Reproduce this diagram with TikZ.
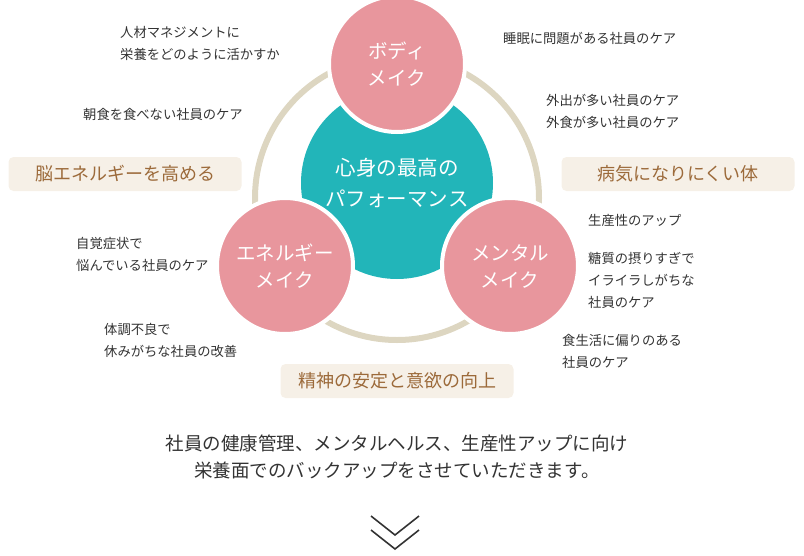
\documentclass[tikz,border=0pt]{standalone}
\usepackage{fontspec}
\setmainfont{Noto Sans CJK JP}
\definecolor{teal1}{HTML}{22B5B9}
\definecolor{pink1}{HTML}{E8969D}
\definecolor{ring}{HTML}{DDD6C1}
\definecolor{boxbg}{HTML}{F6F0E7}
\definecolor{brown1}{HTML}{9C6A3A}
\definecolor{txt}{HTML}{333333}
\begin{document}
\begin{tikzpicture}[x=1pt,y=-1pt,
  small/.style={font=\fontsize{13.3}{22}\selectfont,text=txt,align=left,anchor=west,inner sep=0},
  pinkc/.style={circle,fill=pink1,draw=white,line width=4pt,minimum size=140pt,text=white,align=center,font=\fontsize{19.5}{27}\selectfont},
  tag/.style={rounded corners=5pt,fill=boxbg,text=brown1,minimum width=233pt,minimum height=34pt,font=\fontsize{18}{22}\selectfont}]
\useasboundingbox (0,0) rectangle (804,555);
\draw[ring,line width=6pt] (397,198) circle (142);
\node[circle,fill=teal1,minimum size=192pt,text=white,align=center,font=\fontsize{20.5}{31}\selectfont] (c) at (397,183) {心身の最高の\\パフォーマンス};
\node[pinkc,minimum size=136pt] (b) at (397,64) {ボディ\\メイク};
\node[pinkc,minimum size=136pt] (e) at (285,266) {エネルギー\\メイク};
\node[pinkc,minimum size=136pt] (m) at (510,266) {メンタル\\メイク};
\node[tag] (t1) at (125,174) {脳エネルギーを高める};
\node[tag] (t2) at (678,174) {病気になりにくい体};
\node[tag] (t3) at (397,381) {精神の安定と意欲の向上};
\node[small] (l1) at (120,43) {人材マネジメントに\\栄養をどのように活かすか};
\node[small] (l2) at (83,114) {朝食を食べない社員のケア};
\node[small] (l3) at (76,254) {自覚症状で\\悩んでいる社員のケア};
\node[small] (l4) at (104,340) {体調不良で\\休みがちな社員の改善};
\node[small] (r1) at (503,38) {睡眠に問題がある社員のケア};
\node[small] (r2) at (546,111) {外出が多い社員のケア\\外食が多い社員のケア};
\node[small] (r3) at (588,220) {生産性のアップ};
\node[small] (r4) at (588,280) {糖質の摂りすぎで\\イライラしがちな\\社員のケア};
\node[small] (r5) at (562,351) {食生活に偏りのある\\社員のケア};
\node[font=\fontsize{18.5}{27}\selectfont,text=txt,align=center] (bt) at (397,457) {社員の健康管理、メンタルヘルス、生産性アップに向け\\栄養面でのバックアップをさせていただきます。};
\coordinate (v1a) at (371,516); \coordinate (v1b) at (395,535); \coordinate (v1c) at (419,516);
\coordinate (v2a) at (371,530); \coordinate (v2b) at (395,549); \coordinate (v2c) at (419,530);
\draw[txt,line width=1.6pt] (v1a) -- (v1b) -- (v1c);
\draw[txt,line width=1.6pt] (v2a) -- (v2b) -- (v2c);
\end{tikzpicture}
\end{document}
